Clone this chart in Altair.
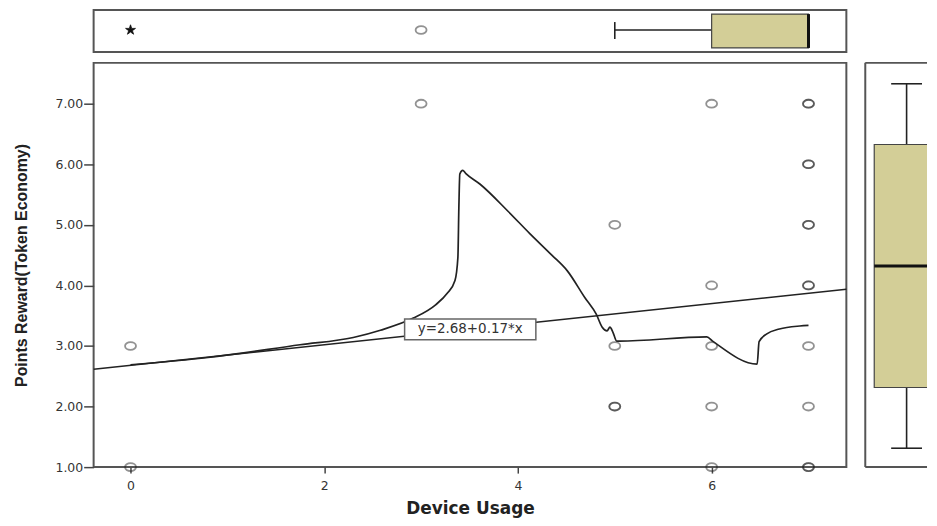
import altair as alt
import pandas as pd

# ---------------- data ----------------
usage_x = [0, 0, 3, 5, 5, 5, 5, 6, 6, 6, 6, 6, 7, 7, 7, 7, 7, 7, 7, 7, 7, 7, 7, 7]
reward_y = [3, 1, 7, 5, 3, 2, 2, 7, 4, 3, 2, 1, 7, 7, 6, 6, 5, 5, 4, 4, 3, 2, 1, 1]

loess_x = [0.0, 0.8, 1.75, 2.3, 2.58, 2.92, 3.15, 3.27, 3.35, 3.38, 3.39, 3.40, 3.43,
           3.46, 3.61, 3.9, 4.12, 4.35, 4.51, 4.69, 4.81, 4.87, 4.92, 4.95, 4.98, 5.02,
           5.05, 5.95, 6.01, 6.47, 6.49, 6.57, 6.70, 6.91, 7.0]
loess_y = [2.69, 2.81, 3.02, 3.14, 3.26, 3.46, 3.68, 3.87, 4.08, 4.46, 5.28, 5.84, 5.90,
           5.85, 5.67, 5.22, 4.86, 4.50, 4.24, 3.80, 3.52, 3.31, 3.25, 3.31, 3.23, 3.08,
           3.08, 3.15, 3.08, 2.70, 3.07, 3.20, 3.28, 3.33, 3.34]

fit_intercept = 2.68
fit_slope = 0.17
fit_label = "y=2.68+0.17*x"

# box plot summaries: low whisker, Q1, median, Q3, high whisker
usage_box = [5, 6, 7, 7, 7]
usage_outliers = [3]
usage_extremes = [0]
reward_box = [1, 2, 4, 6, 7]

x_ticks = [0, 2, 4, 6]
y_ticks = [1, 2, 3, 4, 5, 6, 7]

# ---------------- layout / style ----------------
X_DOMAIN = [-0.381, 7.391]
Y_DOMAIN = [1.0, 7.674]
Y_BOX_DOMAIN = [0.689, 7.344]
MAIN_W, MAIN_H = 756, 406
TOP_H = 42
RIGHT_W = 62
BOX_FILL = "#D3CE97"
INK = "#222222"
FRAME = "#555555"
ELLIPSE = "M-1,0A1,0.72,0,1,1,1,0A1,0.72,0,1,1,-1,0Z"
STAR = ("M0,-1L0.2245,-0.309L0.951,-0.309L0.363,0.118L0.588,0.809L0,0.382"
        "L-0.588,0.809L-0.363,0.118L-0.951,-0.309L-0.2245,-0.309Z")
label_pos = dict(cx=3.507, cy=3.275, x0=2.83, x1=4.185, y0=3.104, y1=3.444)

xscale = alt.Scale(domain=X_DOMAIN, nice=False, zero=False)
yscale = alt.Scale(domain=Y_DOMAIN, nice=False, zero=False)
ybox_scale = alt.Scale(domain=Y_BOX_DOMAIN, nice=False, zero=False)

pts = pd.DataFrame({"x": usage_x, "y": reward_y})
loess = pd.DataFrame({"x": loess_x, "y": loess_y, "i": list(range(len(loess_x)))})
fit = pd.DataFrame({"x": X_DOMAIN,
                    "y": [fit_intercept + fit_slope * v for v in X_DOMAIN]})
lab = pd.DataFrame([{"x": label_pos["cx"], "y": label_pos["cy"], "t": fit_label,
                     "x0": label_pos["x0"], "x1": label_pos["x1"],
                     "y0": label_pos["y0"], "y1": label_pos["y1"]}])

xaxis = alt.Axis(values=x_ticks, format="d", title="Device Usage", grid=False,
                 domain=False, tickSize=6, tickColor="#444", tickWidth=1.5,
                 labelFont="DejaVu Sans", labelFontSize=12.5, labelColor="#333",
                 labelPadding=6, titleFont="DejaVu Sans", titleFontWeight="bold",
                 titleFontSize=17, titleColor=INK, titleY=42, titleBaseline="middle")
yaxis = alt.Axis(values=y_ticks, format=".2f", title="Points Reward(Token Economy)",
                 grid=False, domain=False, tickSize=10, tickColor="#444", tickWidth=1.5,
                 labelFont="DejaVu Sans", labelFontSize=12.5, labelColor="#333",
                 labelPadding=1, labelOverlap=False,
                 titleFont="Liberation Sans", titleFontWeight="bold", titleFontSize=16,
                 titleColor=INK, titleX=-72, titleY=MAIN_H / 2, titleAngle=270,
                 titleBaseline="middle", titleAlign="center")

# ---------------- main scatter ----------------
points = alt.Chart(pts).mark_point(
    shape=ELLIPSE, size=121, filled=False, stroke=INK, strokeWidth=1.8, strokeOpacity=0.7
).encode(x=alt.X("x:Q", scale=xscale, axis=xaxis),
         y=alt.Y("y:Q", scale=yscale, axis=yaxis))

fit_line = alt.Chart(fit).mark_line(color=INK, strokeWidth=1.6).encode(
    x=alt.X("x:Q", scale=xscale), y=alt.Y("y:Q", scale=yscale))

loess_line = alt.Chart(loess).mark_line(color=INK, strokeWidth=1.7, interpolate="monotone").encode(
    x=alt.X("x:Q", scale=xscale), y=alt.Y("y:Q", scale=yscale), order="i:Q")

label_box = alt.Chart(lab).mark_rect(fill="white", stroke="#666", strokeWidth=1.5).encode(
    x=alt.X("x0:Q", scale=xscale), x2="x1:Q",
    y=alt.Y("y0:Q", scale=yscale), y2="y1:Q")

label_text = alt.Chart(lab).mark_text(font="DejaVu Sans", fontSize=13.5, color="#333").encode(
    x=alt.X("x:Q", scale=xscale), y=alt.Y("y:Q", scale=yscale), text="t:N")

main = alt.layer(points, fit_line, loess_line, label_box, label_text).properties(
    width=MAIN_W, height=MAIN_H)

# ---------------- top box plot (Device Usage) ----------------
ub = pd.DataFrame([{"lo": usage_box[0], "q1": usage_box[1], "med": usage_box[2],
                    "q3": usage_box[3], "hi": usage_box[4]}])
uo = pd.DataFrame({"x": usage_outliers})
ue = pd.DataFrame({"x": usage_extremes})

tx = lambda f: alt.X(f, scale=xscale, axis=None)
top_whisker = alt.Chart(ub).mark_rule(color=INK, strokeWidth=1.6).encode(
    x=tx("lo:Q"), x2="q1:Q", y=alt.value(20))
top_cap = alt.Chart(ub).mark_rule(color=INK, strokeWidth=1.6).encode(
    x=tx("lo:Q"), y=alt.value(12), y2=alt.value(29))
top_box = alt.Chart(ub).mark_rect(fill=BOX_FILL, stroke="#444", strokeWidth=1.2).encode(
    x=tx("q1:Q"), x2="q3:Q", y=alt.value(4), y2=alt.value(38))
top_med = alt.Chart(ub).mark_rule(color="#111", strokeWidth=3).encode(
    x=tx("med:Q"), y=alt.value(4), y2=alt.value(38))
top_out = alt.Chart(uo).mark_point(shape=ELLIPSE, size=121, filled=False, stroke=INK,
                                   strokeWidth=1.8, strokeOpacity=0.7).encode(
    x=tx("x:Q"), y=alt.value(20))
top_ext = alt.Chart(ue).mark_point(shape=STAR, size=110, filled=True, fill="#111",
                                   stroke="#111", strokeWidth=0.8, opacity=1).encode(
    x=tx("x:Q"), y=alt.value(20))

top = alt.layer(top_whisker, top_cap, top_box, top_med, top_out, top_ext).properties(
    width=MAIN_W, height=TOP_H)

# ---------------- right box plot (Points Reward) ----------------
rb = pd.DataFrame([{"lo": reward_box[0], "q1": reward_box[1], "med": reward_box[2],
                    "q3": reward_box[3], "hi": reward_box[4]}])
ty = lambda f: alt.Y(f, scale=ybox_scale, axis=None)

frame_left = alt.Chart(rb).mark_rule(color=FRAME, strokeWidth=2).encode(
    x=alt.value(0), y=alt.value(0), y2=alt.value(MAIN_H))
frame_top = alt.Chart(rb).mark_rule(color=FRAME, strokeWidth=2).encode(
    x=alt.value(0), x2=alt.value(RIGHT_W), y=alt.value(0))
frame_bot = alt.Chart(rb).mark_rule(color=FRAME, strokeWidth=2).encode(
    x=alt.value(0), x2=alt.value(RIGHT_W), y=alt.value(MAIN_H))
r_whisk_lo = alt.Chart(rb).mark_rule(color=INK, strokeWidth=1.6).encode(
    x=alt.value(41.5), y=ty("lo:Q"), y2="q1:Q")
r_whisk_hi = alt.Chart(rb).mark_rule(color=INK, strokeWidth=1.6).encode(
    x=alt.value(41.5), y=ty("q3:Q"), y2="hi:Q")
r_cap_lo = alt.Chart(rb).mark_rule(color=INK, strokeWidth=1.6).encode(
    x=alt.value(26), x2=alt.value(57), y=ty("lo:Q"))
r_cap_hi = alt.Chart(rb).mark_rule(color=INK, strokeWidth=1.6).encode(
    x=alt.value(26), x2=alt.value(57), y=ty("hi:Q"))
r_box = alt.Chart(rb).mark_rect(fill=BOX_FILL, stroke="#444", strokeWidth=1.2, clip=True).encode(
    x=alt.value(9), x2=alt.value(RIGHT_W + 20), y=ty("q1:Q"), y2="q3:Q")
r_med = alt.Chart(rb).mark_rule(color="#111", strokeWidth=3, clip=True).encode(
    x=alt.value(9), x2=alt.value(RIGHT_W + 20), y=ty("med:Q"))

right = alt.layer(r_whisk_lo, r_whisk_hi, r_cap_lo, r_cap_hi, r_box, r_med,
                  frame_left, frame_top, frame_bot).properties(
    width=RIGHT_W, height=MAIN_H, view=alt.ViewBackground(stroke="transparent"))

chart = alt.vconcat(
    top,
    alt.hconcat(main, right, spacing=19, bounds="flush"),
    spacing=11, bounds="flush"
).configure_view(stroke=FRAME, strokeWidth=2).properties(
    padding={"left": 5, "top": 0, "right": 0, "bottom": 0}, background="white"
)

chart.save("out.html", embed_options={"renderer": "svg", "actions": False})
